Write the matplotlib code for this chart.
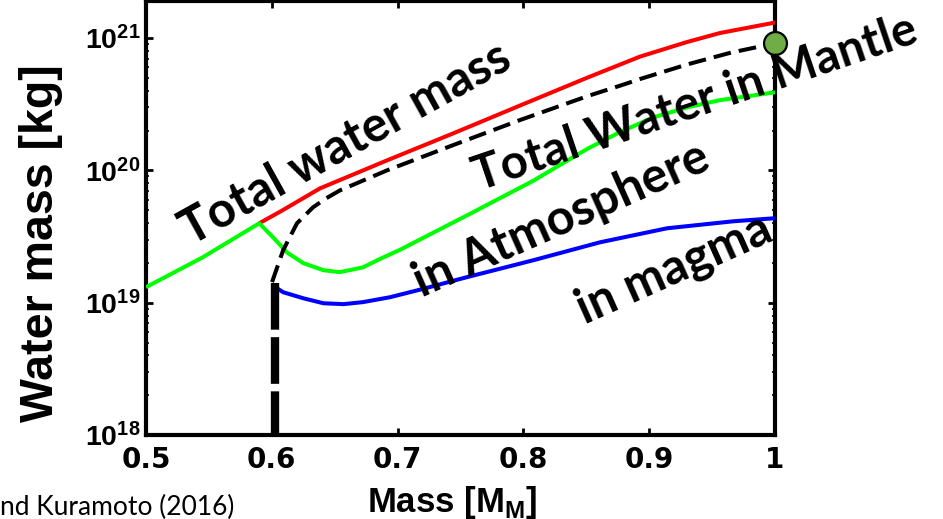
import matplotlib
matplotlib.use('Agg')
import matplotlib.pyplot as plt
from matplotlib.ticker import LogLocator, NullFormatter, FixedLocator

plt.rcParams['mathtext.fontset'] = 'custom'
plt.rcParams['mathtext.rm'] = 'Liberation Sans'
plt.rcParams['mathtext.bf'] = 'Liberation Sans:bold'

# ---- data ----
total_m = [0.590, 0.6085, 0.6383, 0.6916, 0.744, 0.7973, 0.8506, 0.8927, 0.930, 0.956, 1.000]
total_w = [3.98e19, 4.99e19, 7.31e19, 1.19e20, 1.90e20, 3.09e20, 5.01e20, 7.24e20,
           9.33e20, 1.09e21, 1.31e21]

atm_m = [0.500, 0.545, 0.590, 0.601, 0.612, 0.625, 0.641, 0.654, 0.6725, 0.686, 0.7019,
         0.7286, 0.7552, 0.8076, 0.8506, 0.877, 0.903, 0.930, 0.956, 1.000]
atm_w = [1.31e19, 2.20e19, 3.98e19, 3.12e19, 2.40e19, 1.99e19, 1.76e19, 1.70e19, 1.85e19,
         2.14e19, 2.51e19, 3.39e19, 4.57e19, 8.32e19, 1.45e20, 1.95e20, 2.51e20, 2.99e20,
         3.39e20, 3.89e20]

mantle_m = [0.6002, 0.6042, 0.609, 0.620, 0.6328, 0.6435, 0.6542, 0.6916, 0.744, 0.7973,
            0.8506, 0.877, 0.8927, 0.930, 0.965, 1.000]
mantle_w = [1.43e19, 1.84e19, 2.49e19, 3.98e19, 5.26e19, 6.17e19, 7.06e19, 1.0e20, 1.55e20,
            2.40e20, 3.63e20, 4.37e20, 4.90e20, 6.31e20, 7.76e20, 9.12e20]

magma_m = [0.6002, 0.609, 0.625, 0.641, 0.657, 0.6725, 0.694, 0.7186, 0.7552, 0.8076,
           0.8609, 0.9142, 0.9666, 1.000]
magma_w = [1.36e19, 1.20e19, 1.08e19, 9.9e18, 9.75e18, 1.01e19, 1.10e19, 1.26e19, 1.56e19,
           2.09e19, 2.86e19, 3.65e19, 4.12e19, 4.35e19]

onset_m = [0.6025, 0.6025]
onset_w = [1.4e19, 1.0e18]

present_m = [1.0]
present_w = [9.1e20]

x_ticks = [0.5, 0.6, 0.7, 0.8, 0.9, 1.0]
x_ticklabels = ['0.5', '0.6', '0.7', '0.8', '0.9', '1']
y_ticks = [1e18, 1e19, 1e20, 1e21]
y_ticklabels = [r'$\mathbf{10^{18}}$', r'$\mathbf{10^{19}}$', r'$\mathbf{10^{20}}$', r'$\mathbf{10^{21}}$']

labels = ['Total water mass', 'Total Water in Mantle', 'in Atmosphere', 'in magma']
label_pos = [(0.5358, 2.67e19), (0.7647, 7.0e19), (0.7194, 1.1e19), (0.849, 6.9e18)]
label_rot = [29.0, 18.7, 24.0, 24.0]
label_size = [35, 34, 35, 35]

# ---- figure ----
fig = plt.figure(figsize=(9.43, 5.19), dpi=100)
ax = fig.add_axes([146/943, 1-435/519, (775-146)/943, 434/519])

lw = 2.9
ax.plot(total_m, total_w, color='#ff0000', lw=lw, solid_capstyle='butt', zorder=3)
ax.plot(atm_m, atm_w, color='#00ff00', lw=lw, solid_capstyle='butt', zorder=3)
ax.plot(magma_m, magma_w, color='#0000ff', lw=lw, solid_capstyle='butt', zorder=3)
ax.plot(mantle_m, mantle_w, color='black', lw=lw, dashes=(4.4, 2.0), zorder=4)
ax.plot(onset_m, onset_w, color='black', lw=6.0, dashes=(5.6, 0.9), zorder=4)
ax.plot(present_m, present_w, 'o', ms=16.5, mfc='#70ad47', mec='black', mew=1.6,
        clip_on=False, zorder=6)

ax.set_yscale('log')
ax.set_xlim(0.5, 1.0)
ax.set_ylim(1e18, 10**21.28)

ax.xaxis.set_major_locator(FixedLocator(x_ticks))
ax.set_xticklabels(x_ticklabels, fontsize=20, fontweight='bold', family='DejaVu Sans')
ax.yaxis.set_major_locator(FixedLocator(y_ticks))
ax.set_yticklabels(y_ticklabels, fontsize=20.5)
ax.yaxis.set_minor_locator(LogLocator(base=10, subs=range(2, 10)))
ax.yaxis.set_minor_formatter(NullFormatter())

ax.tick_params(axis='both', which='major', direction='in', length=5, width=2.0,
               top=True, right=True)
ax.tick_params(axis='x', which='major', pad=8)
ax.tick_params(axis='y', which='major', pad=4)
ax.tick_params(axis='both', which='minor', direction='in', length=2.5, width=1.2,
               top=True, right=True)
for s in ax.spines.values():
    s.set_linewidth(3.0)

ax.set_ylabel('Water mass [kg]', fontsize=33.5, fontweight='bold', family='Liberation Sans')
ax.yaxis.set_label_coords(-0.132, 0.442)
ax.set_xlabel(r'Mass [M$_\mathbf{M}$]', fontsize=25, fontweight='bold',
              family='Liberation Sans')
ax.xaxis.set_label_coords(0.4865, -0.112)

for txt, (mx, wy), rot, fs in zip(labels, label_pos, label_rot, label_size):
    ax.text(mx, wy, txt, fontsize=fs, fontweight='bold', family='Lato', rotation=rot,
            rotation_mode='anchor', ha='left', va='baseline', color='black', zorder=7)

fig.text(0.0, 4/519, 'nd Kuramoto (2016)', fontsize=19, family='Lato', ha='left',
         va='baseline', color='black')

fig.savefig('out.png', dpi=100)
